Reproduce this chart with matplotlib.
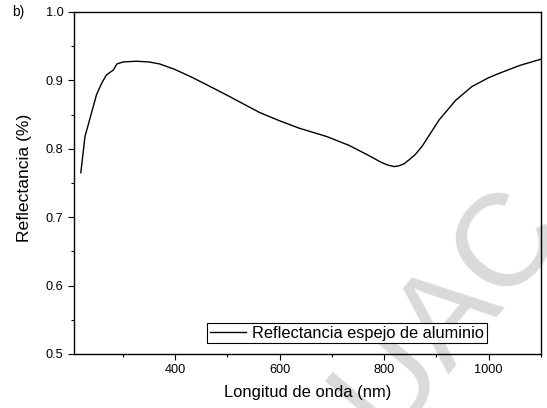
import matplotlib
matplotlib.use("Agg")
import matplotlib.pyplot as plt
import numpy as np
from matplotlib.ticker import MultipleLocator

plt.rcParams['font.family'] = ['Liberation Sans', 'DejaVu Sans']

wavelength = [220, 228, 241, 250, 260, 269, 282, 289, 301, 326, 350, 371, 400, 434, 470, 498,
              530, 562, 600, 638, 690, 733, 771, 795, 808, 819, 828, 838, 848, 860, 873,
              905, 937, 968, 1000, 1019, 1060, 1100]
reflectance = [0.765, 0.818, 0.854, 0.879, 0.896, 0.908, 0.915, 0.924, 0.927, 0.928, 0.927,
               0.924, 0.916, 0.904, 0.890, 0.879, 0.866, 0.853, 0.841, 0.830, 0.818, 0.805,
               0.790, 0.780, 0.776, 0.774, 0.775, 0.778, 0.784, 0.792, 0.804, 0.842, 0.871,
               0.891, 0.904, 0.910, 0.922, 0.931]

fig = plt.figure(figsize=(5.47, 4.08), dpi=100)
ax = fig.add_axes([0.1353, 0.1324, 0.8537, 0.8382])
ax.patch.set_facecolor('none')

ax.plot(wavelength, reflectance, color='black', lw=1.0,
        label='Reflectancia espejo de aluminio')

ax.set_xlim(207, 1100)
ax.set_ylim(0.5, 1.0)
ax.xaxis.set_minor_locator(MultipleLocator(100))
ax.yaxis.set_minor_locator(MultipleLocator(0.05))
ax.tick_params(which='major', direction='out', length=4, width=0.8, labelsize=9.2)
ax.tick_params(which='minor', direction='out', length=2.5, width=0.8)
ax.set_xticks([400, 600, 800, 1000])
ax.set_xticklabels(['400', '600', '800', '1000'])
ax.set_yticks([0.5, 0.6, 0.7, 0.8, 0.9, 1.0])
ax.set_yticklabels(['0.5', '0.6', '0.7', '0.8', '0.9', '1.0'])
for s in ax.spines.values():
    s.set_linewidth(1.0)

ax.set_xlabel('Longitud de onda (nm)', fontsize=11.9, labelpad=6)
ax.set_ylabel('Reflectancia (%)', fontsize=12.6)
ax.yaxis.set_label_coords(-0.09, 0.516)

leg = ax.legend(loc='lower left', bbox_to_anchor=(0.285, 0.032), borderaxespad=0,
                fancybox=False, edgecolor='black', framealpha=1, fontsize=11.8,
                handlelength=2.2, borderpad=0.15, handletextpad=0.4)
leg.get_frame().set_linewidth(0.8)

fig.text(12 / 547, 1 - 12 / 408, 'b)', fontsize=10, ha='left', va='center')

fig.text(0.82, 0.24, 'UAC', fontsize=95, color='#dadada', rotation=50,
         ha='center', va='center', zorder=-5)

fig.savefig('out.png', dpi=100)
